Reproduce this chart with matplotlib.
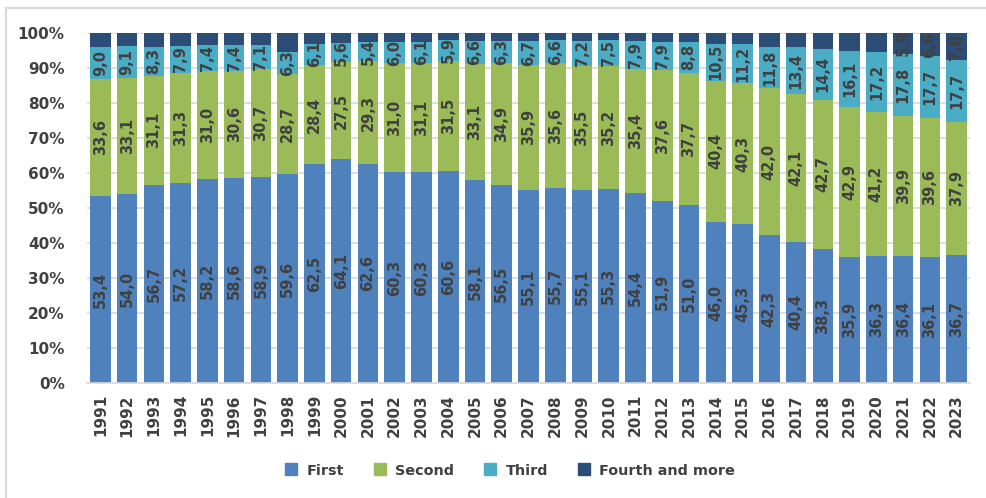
import matplotlib.pyplot as plt
import numpy as np
from matplotlib.lines import Line2D

years = [str(y) for y in range(1991, 2024)]
first = [53.4, 54.0, 56.7, 57.2, 58.2, 58.6, 58.9, 59.6, 62.5, 64.1, 62.6, 60.3, 60.3, 60.6,
         58.1, 56.5, 55.1, 55.7, 55.1, 55.3, 54.4, 51.9, 51.0, 46.0, 45.3, 42.3, 40.4, 38.3,
         35.9, 36.3, 36.4, 36.1, 36.7]
second = [33.6, 33.1, 31.1, 31.3, 31.0, 30.6, 30.7, 28.7, 28.4, 27.5, 29.3, 31.0, 31.1, 31.5,
          33.1, 34.9, 35.9, 35.6, 35.5, 35.2, 35.4, 37.6, 37.7, 40.4, 40.3, 42.0, 42.1, 42.7,
          42.9, 41.2, 39.9, 39.6, 37.9]
third = [9.0, 9.1, 8.3, 7.9, 7.4, 7.4, 7.1, 6.3, 6.1, 5.6, 5.4, 6.0, 6.1, 5.9, 6.6, 6.3, 6.7,
         6.6, 7.2, 7.5, 7.9, 7.9, 8.8, 10.5, 11.2, 11.8, 13.4, 14.4, 16.1, 17.2, 17.8, 17.7, 17.7]
fourth = [4.0, 3.8, 3.9, 3.6, 3.4, 3.4, 3.3, 5.4, 3.0, 2.8, 2.7, 2.7, 2.5, 2.0, 2.2, 2.3, 2.3,
          2.1, 2.2, 2.0, 2.3, 2.6, 2.5, 3.1, 3.2, 3.9, 4.1, 4.6, 5.1, 5.3, 5.9, 6.6, 7.8]
# only these years have a label on the top segment
fourth_labeled = ['2021', '2022', '2023']

series = [('First', first, '#4F81BD'),
          ('Second', second, '#9BBB59'),
          ('Third', third, '#4BACC6'),
          ('Fourth and more', fourth, '#2C4D75')]

txt = '#404040'
plt.rcParams['font.family'] = ['DejaVu Sans']

fig = plt.figure(figsize=(9.86, 4.98), dpi=100)
ax = fig.add_axes([0.0882, 0.2309, 0.8956, 0.7028])

x = np.arange(len(years))
total = np.array(first) + np.array(second) + np.array(third) + np.array(fourth)
bottom = np.zeros(len(years))
for name, vals, col in series:
    v = np.array(vals) / total * 100
    ax.bar(x, v, 0.77, bottom=bottom, color=col, label=name, zorder=2)
    for i in range(len(years)):
        if name == 'Fourth and more' and years[i] not in fourth_labeled:
            continue
        ax.text(x[i], bottom[i] + v[i] / 2, ('%.1f' % vals[i]).replace('.', ','),
                rotation=90, ha='center', va='center', fontsize=10.5,
                fontweight='bold', color=txt, zorder=3, clip_on=False)
    bottom += v

ax.set_xlim(-0.5, len(years) - 0.5)
ax.set_ylim(0, 100)
ax.set_yticks(np.arange(0, 101, 10))
ax.set_yticklabels(['%d%%' % t for t in range(0, 101, 10)])
ax.set_xticks(x)
ax.set_xticklabels(years, rotation=90)
ax.tick_params(axis='both', length=0, labelsize=11, labelcolor=txt)
ax.tick_params(axis='y', pad=16)
ax.tick_params(axis='x', pad=8)
for lab in ax.get_xticklabels() + ax.get_yticklabels():
    lab.set_fontweight('bold')
ax.yaxis.grid(True, color='#d9d9d9', linewidth=1.2, zorder=0)
for s in ['top', 'right', 'left']:
    ax.spines[s].set_visible(False)
ax.spines['bottom'].set_color('#d9d9d9')
ax.spines['bottom'].set_linewidth(1.2)

handles = [Line2D([], [], marker='s', linestyle='', markersize=8, color=c) for _, _, c in series]
leg = ax.legend(handles, [s[0] for s in series], loc='center', bbox_to_anchor=(0.4745, -0.25),
                ncol=4, frameon=False, handletextpad=0.05, columnspacing=1.5,
                prop={'size': 10.4, 'weight': 'bold'})
for t in leg.get_texts():
    t.set_color(txt)

# thin gray frame of the chart area
fig.add_artist(Line2D([0.0065, 0.0065], [0, 0.984], color='#d9d9d9', lw=1.5, transform=fig.transFigure))
fig.add_artist(Line2D([0.0065, 1], [0.984, 0.984], color='#d9d9d9', lw=1.5, transform=fig.transFigure))

fig.savefig('out.png', dpi=100)
